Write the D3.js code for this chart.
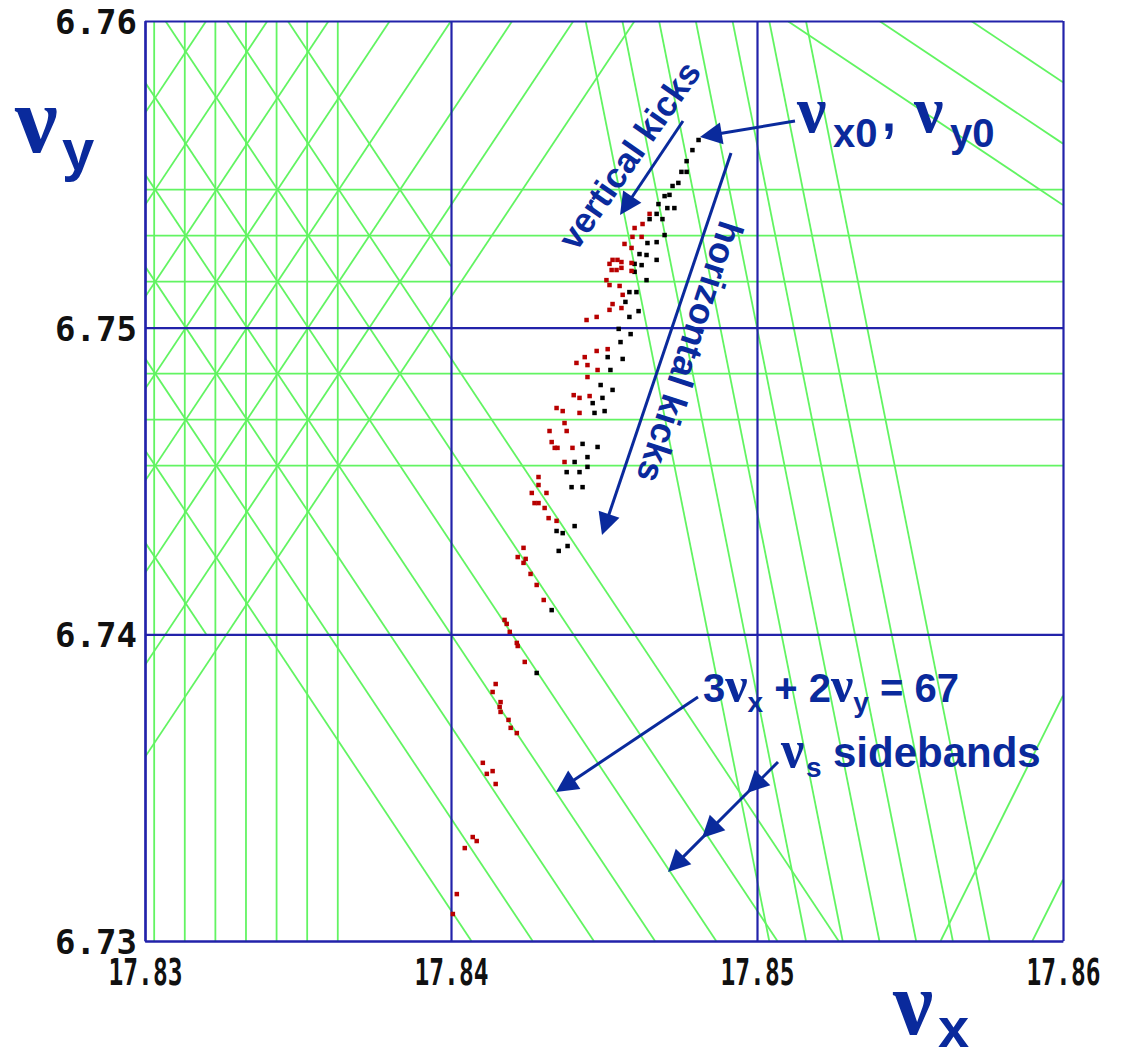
<!DOCTYPE html>
<html><head><meta charset="utf-8">
<script src="https://cdn.jsdelivr.net/npm/d3@7"></script>
<style>html,body{margin:0;padding:0;background:#fff;}svg{display:block;}</style>
</head><body>
<svg id="chart" width="1132" height="1059"></svg>
<script>
// ---------- data ----------
const xTicks = [17.83, 17.84, 17.85, 17.86];
const yTicks = [6.73, 6.74, 6.75, 6.76];
const xTickLabels = ["17.83", "17.84", "17.85", "17.86"];
const yTickLabels = ["6.73", "6.74", "6.75", "6.76"];

// resonance lines  a*nux + b*nuy = c  (with synchrotron sidebands)
const resVertical   = [17.8303, 17.8313, 17.8323, 17.8333, 17.8343, 17.8353, 17.8363]; // nux = c
const resHorizontal = [6.7545, 6.7530, 6.7515, 6.7485, 6.7470, 6.7455];                // nuy = c
const res3x2y  = [66.976, 66.982, 66.988, 66.994, 67.000, 67.006, 67.012, 67.018, 67.024]; // 3nux+2nuy
const res3xm2y = [39.976, 39.982, 39.988, 39.994, 40.000, 40.006, 40.012, 40.018];         // 3nux-2nuy
const res5x1y  = [95.982, 95.988, 95.994, 96.000, 96.006, 96.012, 96.018];                 // 5nux+nuy
const res2x3y  = [55.982, 55.988, 55.994];                                                 // 2nux+3nuy
const res2xm1y = [28.982, 28.988];                                                         // 2nux-nuy
// lines only drawn over part of the window
const partialLines = [
  {family: "3x2y", c: 66.976, yMin: 6.74},
  {family: "3x2y", c: 67.024, xMax: 17.84}
];

// measured tunes
const tunesBlack = [
 [17.84809,6.75612],[17.84789,6.75579],[17.84770,6.75543],[17.84770,6.75508],[17.84753,6.75508],
 [17.84743,6.75472],[17.84724,6.75462],[17.84714,6.75433],[17.84698,6.75429],[17.84678,6.75403],
 [17.84707,6.75390],[17.84730,6.75390],[17.84672,6.75371],[17.84649,6.75354],[17.84691,6.75354],
 [17.84698,6.75302],[17.84672,6.75279],[17.84642,6.75276],[17.84616,6.75240],[17.84639,6.75237],
 [17.84672,6.75221],[17.84600,6.75208],[17.84623,6.75204],[17.84600,6.75182],[17.84639,6.75155],
 [17.84583,6.75116],[17.84606,6.75116],[17.84570,6.75084],[17.84613,6.75054],[17.84583,6.75035],
 [17.84548,6.74996],[17.84587,6.74979],[17.84554,6.74953],[17.84512,6.74904],[17.84561,6.74898],
 [17.84521,6.74862],[17.84489,6.74813],[17.84528,6.74797],[17.84495,6.74771],[17.84463,6.74754],
 [17.84502,6.74728],[17.84469,6.74722],[17.84430,6.74621],[17.84479,6.74611],[17.84446,6.74578],
 [17.84404,6.74562],[17.84446,6.74546],[17.84378,6.74529],[17.84420,6.74529],[17.84394,6.74480],
 [17.84430,6.74480],[17.84404,6.74353],[17.84345,6.74337],[17.84365,6.74330],[17.84381,6.74288],
 [17.84352,6.74272],[17.84329,6.74079],[17.84280,6.73874]
];
const tunesRed = [
 [17.84649,6.75371],[17.84626,6.75338],[17.84600,6.75325],[17.84593,6.75296],[17.84623,6.75296],
 [17.84567,6.75273],[17.84590,6.75260],[17.84528,6.75221],[17.84544,6.75221],[17.84557,6.75214],
 [17.84518,6.75208],[17.84590,6.75211],[17.84525,6.75188],[17.84541,6.75188],[17.84557,6.75195],
 [17.84590,6.75185],[17.84508,6.75155],[17.84551,6.75136],[17.84518,6.75139],[17.84561,6.75107],
 [17.84528,6.75077],[17.84518,6.75058],[17.84557,6.75064],[17.84476,6.75035],[17.84443,6.75025],
 [17.84476,6.74924],[17.84512,6.74930],[17.84437,6.74904],[17.84410,6.74885],[17.84446,6.74878],
 [17.84479,6.74862],[17.84446,6.74839],[17.84401,6.74780],[17.84420,6.74771],[17.84453,6.74777],
 [17.84345,6.74738],[17.84365,6.74728],[17.84420,6.74722],[17.84371,6.74689],[17.84322,6.74663],
 [17.84378,6.74663],[17.84329,6.74627],[17.84339,6.74608],[17.84348,6.74608],[17.84397,6.74608],
 [17.84371,6.74562],[17.84286,6.74513],[17.84286,6.74487],[17.84264,6.74461],[17.84312,6.74461],
 [17.84273,6.74428],[17.84286,6.74428],[17.84306,6.74412],[17.84319,6.74379],[17.84345,6.74370],
 [17.84237,6.74282],[17.84218,6.74252],[17.84244,6.74246],[17.84237,6.74233],[17.84260,6.74197],
 [17.84280,6.74161],[17.84303,6.74112],[17.84175,6.74047],[17.84182,6.74034],[17.84192,6.74008],
 [17.84215,6.73972],[17.84218,6.73962],[17.84241,6.73910],[17.84146,6.73838],[17.84136,6.73812],
 [17.84162,6.73779],[17.84159,6.73763],[17.84162,6.73747],[17.84188,6.73721],[17.84195,6.73695],
 [17.84215,6.73678],[17.84104,6.73581],[17.84136,6.73554],[17.84117,6.73545],[17.84146,6.73512],
 [17.84071,6.73339],[17.84084,6.73326],[17.84045,6.73303],[17.84019,6.73153],[17.84006,6.73088]
];

// ---------- drawing ----------
const blue = "#2222aa", green = "#62f462", navy = "#0a2a9c";
const sans = "'Liberation Sans', Arial, Helvetica, sans-serif";
const serif = "'Liberation Serif', 'Times New Roman', serif";

const x = d3.scaleLinear().domain([17.83, 17.86]).range([145, 1063]);
const y = d3.scaleLinear().domain([6.73, 6.76]).range([941, 21]);
const svg = d3.select("#chart");

svg.append("defs").append("clipPath").attr("id", "plotClip")
  .append("rect").attr("x", x(17.83)).attr("y", y(6.76))
  .attr("width", x(17.86) - x(17.83)).attr("height", y(6.73) - y(6.76));

const families = [
  {key: "v", a: 1, b: 0, cs: resVertical},
  {key: "h", a: 0, b: 1, cs: resHorizontal},
  {key: "3x2y", a: 3, b: 2, cs: res3x2y},
  {key: "3xm2y", a: 3, b: -2, cs: res3xm2y},
  {key: "5x1y", a: 5, b: 1, cs: res5x1y},
  {key: "2x3y", a: 2, b: 3, cs: res2x3y},
  {key: "2xm1y", a: 2, b: -1, cs: res2xm1y}
];

function segment(a, b, c, box) {
  if (b === 0) { const xv = c / a; return [[xv, box.y0], [xv, box.y1]]; }
  if (a === 0) { const yv = c / b; return [[box.x0, yv], [box.x1, yv]]; }
  const yAt = v => (c - a * v) / b, xAt = v => (c - b * v) / a;
  const xa = xAt(box.y0), xb = xAt(box.y1);
  const lo = Math.max(box.x0, Math.min(xa, xb)), hi = Math.min(box.x1, Math.max(xa, xb));
  if (!(lo < hi)) return null;
  return [[lo, yAt(lo)], [hi, yAt(hi)]];
}

const segs = [];
families.forEach(f => f.cs.forEach(c => {
  const box = {x0: 17.83, x1: 17.86, y0: 6.73, y1: 6.76};
  const p = partialLines.find(q => q.family === f.key && Math.abs(q.c - c) < 1e-9);
  if (p) {
    if (p.yMin !== undefined) box.y0 = p.yMin;
    if (p.xMax !== undefined) box.x1 = p.xMax;
  }
  const s = segment(f.a, f.b, c, box);
  if (s) segs.push(s);
}));

svg.append("g").attr("clip-path", "url(#plotClip)")
  .selectAll("line").data(segs).join("line")
  .attr("x1", d => x(d[0][0])).attr("y1", d => y(d[0][1]))
  .attr("x2", d => x(d[1][0])).attr("y2", d => y(d[1][1]))
  .attr("stroke", green).attr("stroke-width", 1.8);

// axes / blue grid
const xAxis = d3.axisBottom(x).tickValues(xTicks).tickFormat((d, i) => xTickLabels[i])
  .tickSize(-(y(6.73) - y(6.76))).tickSizeOuter(0).tickPadding(18);
const gx = svg.append("g").attr("transform", `translate(0,${y(6.73)})`).call(xAxis);
const yAxis = d3.axisLeft(y).tickValues(yTicks).tickFormat((d, i) => yTickLabels[i])
  .tickSize(-(x(17.86) - x(17.83))).tickSizeOuter(0).tickPadding(8);
const gy = svg.append("g").attr("transform", `translate(${x(17.83)},0)`).call(yAxis);
[gx, gy].forEach(g => {
  g.selectAll(".tick line").attr("stroke", blue).attr("stroke-width", 2.2);
  g.select(".domain").attr("stroke", blue).attr("stroke-width", 2.2);
});
gx.selectAll(".tick text").attr("font-family", "'DejaVu Sans Mono', monospace")
  .attr("font-weight", "bold").attr("font-size", 37).attr("fill", "#111")
  .attr("textLength", 74).attr("lengthAdjust", "spacingAndGlyphs");
gy.selectAll(".tick text").attr("font-family", "'DejaVu Sans Mono', monospace")
  .attr("font-weight", "bold").attr("font-size", 33).attr("fill", "#111").attr("dy", "0.38em")
  .attr("textLength", 82).attr("lengthAdjust", "spacingAndGlyphs");

// tune points
const pts = svg.append("g");
pts.selectAll("rect.blk").data(tunesBlack).join("rect").attr("class", "blk")
  .attr("x", d => x(d[0]) - 2.25).attr("y", d => y(d[1]) - 2.25).attr("width", 4.5).attr("height", 4.5).attr("fill", "#000");
pts.selectAll("rect.red").data(tunesRed).join("rect").attr("class", "red")
  .attr("x", d => x(d[0]) - 2.25).attr("y", d => y(d[1]) - 2.25).attr("width", 4.5).attr("height", 4.5).attr("fill", "#b80000");

// ---------- annotations ----------
const ann = svg.append("g").attr("fill", navy);
function label(str, px, py, family, size, rot) {
  const t = ann.append("text").attr("x", px).attr("y", py).attr("font-family", family)
    .attr("font-size", size).attr("font-weight", "bold").text(str);
  if (rot !== undefined) {
    t.attr("text-anchor", "middle").attr("dominant-baseline", "central")
     .attr("transform", `rotate(${rot},${px},${py})`);
  }
  return t;
}
function arrow(x1, y1, x2, y2, heads) {
  const ang = Math.atan2(y2 - y1, x2 - x1), len = 22, half = 11;
  const endFrac = heads.includes(1) ? 1 - (len - 3) / Math.hypot(x2 - x1, y2 - y1) : 1;
  ann.append("line").attr("x1", x1).attr("y1", y1)
    .attr("x2", x1 + endFrac * (x2 - x1)).attr("y2", y1 + endFrac * (y2 - y1))
    .attr("stroke", navy).attr("stroke-width", 3);
  heads.forEach(t => {
    const tx = x1 + t * (x2 - x1), ty = y1 + t * (y2 - y1);
    const bx = tx - len * Math.cos(ang), by = ty - len * Math.sin(ang);
    const ox = -Math.sin(ang) * half, oy = Math.cos(ang) * half;
    ann.append("path").attr("d", `M${tx},${ty}L${bx + ox},${by + oy}L${bx - ox},${by - oy}Z`);
  });
}

// axis titles
label("ν", 15, 152, serif, 96);
label("y", 62, 170, sans, 58);
label("ν", 893, 1034, serif, 90);
label("x", 938, 1047, sans, 56);

// initial tune label
label("ν", 797, 132, serif, 66);
label("x0", 833, 147, sans, 40);
label(",", 882, 131, sans, 50);
label("ν", 914, 132, serif, 66);
label("y0", 950, 147, sans, 40);
arrow(795, 121, 700, 137, [1]);

// kicks
label("vertical kicks", 629, 155, sans, 35, -55);
arrow(683, 121, 620, 215, [1]);
label("horizontal kicks", 690, 352, sans, 36, 108);
arrow(731, 153, 602, 535, [1]);

// resonance label
const eq = ann.append("text").attr("x", 703).attr("y", 702).attr("font-family", sans)
  .attr("font-weight", "bold").attr("font-size", 40);
eq.append("tspan").text("3");
eq.append("tspan").attr("font-family", serif).attr("font-size", 50).text("ν");
eq.append("tspan").attr("font-size", 28).attr("dy", 10).text("x");
eq.append("tspan").attr("dy", -10).text(" + 2");
eq.append("tspan").attr("font-family", serif).attr("font-size", 50).text("ν");
eq.append("tspan").attr("font-size", 28).attr("dy", 10).text("y");
eq.append("tspan").attr("dy", -10).text(" = 67");
arrow(698, 697, 556, 792, [1]);

// sidebands
label("ν", 781, 767, serif, 52);
label("s", 806, 777, sans, 28);
label("sidebands", 833, 767, sans, 42);
arrow(778, 762, 668, 872, [31 / 110, 76 / 110, 1]);
</script>
</body></html>
